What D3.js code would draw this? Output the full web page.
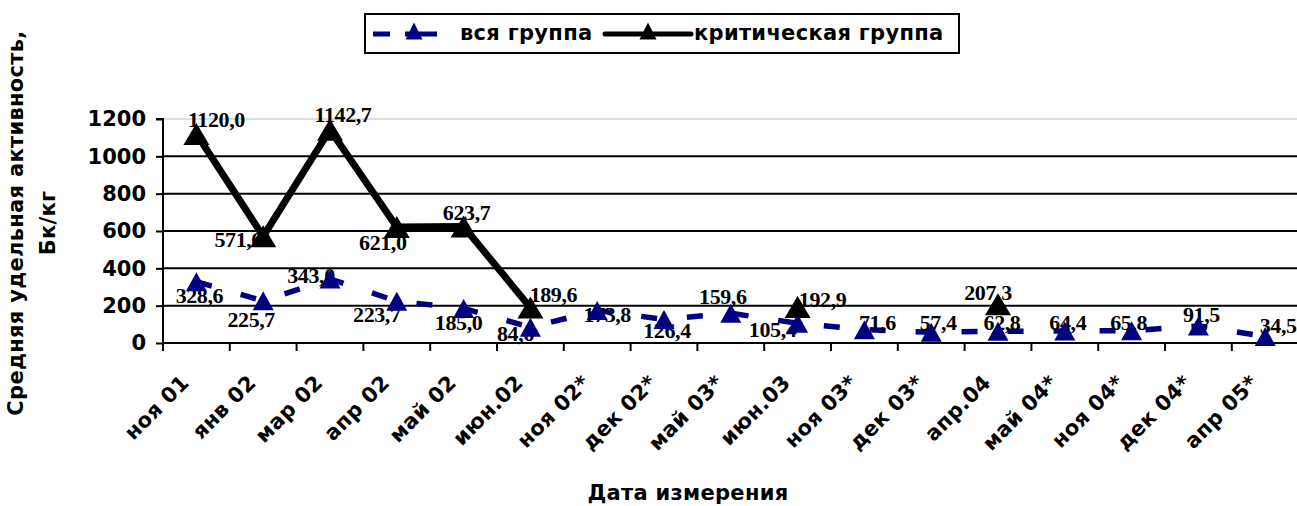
<!DOCTYPE html>
<html>
<head>
<meta charset="utf-8">
<script src="https://cdn.jsdelivr.net/npm/d3@7"></script>
<style>
  html, body { margin: 0; padding: 0; background: #fff; }
  svg { display: block; }
</style>
</head>
<body>
<svg id="chart" width="1297" height="506"></svg>
<script>
// ---------------- DATA ----------------
const categories = ["ноя 01", "янв 02", "мар 02", "апр 02", "май 02", "июн.02", "ноя 02*", "дек 02*",
  "май 03*", "июн.03", "ноя 03*", "дек 03*", "апр.04", "май 04*", "ноя 04*", "дек 04*", "апр 05*"];
const allGroup = [328.6, 225.7, 343.0, 223.7, 185.0, 84.6, 173.8, 126.4, 159.6, 105.4, 71.6, 57.4,
  62.8, 64.4, 65.8, 91.5, 34.5];
const critGroup = [1120.0, 571.6, 1142.7, 621.0, 623.7, 189.6, null, null, null, 192.9, null, null,
  207.3, null, null, null, null];
const yTicks = [0, 200, 400, 600, 800, 1000, 1200];
const seriesNames = ["вся группа", "критическая группа"];
const yTitle = ["Средняя удельная активность,", "Бк/кг"];
const xTitle = "Дата измерения";

// ---------------- LAYOUT (label nudges, px) ----------------
const allLabelOffsets = [[3,21],[-12,26],[-19,4],[-20,21],[-5,22],[-15,14],[10,11],[3,19],[-8,-9],
  [-25,14],[13,0],[7,-2],[4,-1],[3,-1],[-3,-1],[3,-4],[13,-4]];
const critLabelOffsets = [[20,-7],[-25,11],[13,-8],[-14,23],[3,-7],[23,-6],null,null,null,[25,0],
  null,null,[-10,-4],null,null,null,null];

const W = 1297, H = 506;
const plot = { left: 163, right: 163 + 17 * 66.8, top: 119, bottom: 343 };
const navy = "#000080";
const sansBold = "'DejaVu Sans', Verdana, sans-serif";
const serif = "'Liberation Serif', 'Times New Roman', serif";

const svg = d3.select("#chart");
svg.append("rect").attr("width", W).attr("height", H).attr("fill", "#fff");

const x = d3.scaleBand().domain(categories).range([plot.left, plot.right]).paddingInner(0).paddingOuter(0);
const y = d3.scaleLinear().domain([0, 1200]).range([plot.bottom, plot.top]);
const cx = i => x(categories[i]) + x.bandwidth() / 2;

// gridlines
svg.append("g").selectAll("line").data(yTicks.filter(v => v > 0)).join("line")
  .attr("x1", plot.left).attr("x2", W)
  .attr("y1", d => y(d)).attr("y2", d => y(d))
  .attr("stroke", d => d === 1200 ? "#bdbdbd" : "#000")
  .attr("stroke-width", d => d === 1200 ? 1 : 2);

// Y axis
const yAxis = d3.axisLeft(y).tickValues(yTicks).tickSize(7).tickPadding(10).tickFormat(d3.format("d"));
const gy = svg.append("g").attr("transform", `translate(${plot.left},0)`).call(yAxis);
gy.select(".domain").attr("stroke", "#000").attr("stroke-width", 2).attr("d", `M-7,${plot.top}H0V${plot.bottom}`);
gy.selectAll(".tick line").attr("stroke", "#000").attr("stroke-width", 2);
gy.selectAll(".tick text").attr("font-family", sansBold).attr("font-weight", "bold")
  .attr("font-size", 21).attr("fill", "#000");

// X axis
const xAxis = d3.axisBottom(x).tickSize(0).tickFormat("");
const gx = svg.append("g").attr("transform", `translate(0,${plot.bottom})`).call(xAxis);
gx.select(".domain").attr("stroke", "#000").attr("stroke-width", 2).attr("d", `M${plot.left},0H${W}`);
const boundaries = d3.range(categories.length + 1).map(i => plot.left + i * x.bandwidth());
gx.append("g").selectAll("line").data(boundaries).join("line")
  .attr("x1", d => d).attr("x2", d => d).attr("y1", 0).attr("y2", 8)
  .attr("stroke", "#000").attr("stroke-width", 2);
gx.append("g").selectAll("text").data(categories).join("text")
  .attr("transform", (d, i) => `translate(${cx(i) - 6},${41}) rotate(-45)`)
  .attr("text-anchor", "end")
  .attr("font-family", sansBold).attr("font-weight", "bold").attr("font-size", 21)
  .attr("letter-spacing", 0.3).attr("fill", "#000")
  .text(d => d);

// axis titles
const yt = svg.append("text")
  .attr("transform", `translate(0,223) rotate(-90)`)
  .attr("text-anchor", "middle")
  .attr("font-family", sansBold).attr("font-weight", "bold").attr("font-size", 21)
  .attr("letter-spacing", 0.3).attr("fill", "#000");
yt.selectAll("tspan").data(yTitle).join("tspan")
  .attr("x", 0).attr("y", (d, i) => i === 0 ? 23 : 55).text(d => d);

svg.append("text").attr("x", 688).attr("y", 500).attr("text-anchor", "middle")
  .attr("font-family", sansBold).attr("font-weight", "bold").attr("font-size", 21)
  .attr("letter-spacing", 0.3).attr("fill", "#000")
  .text(xTitle);

// lines
const line = d3.line().defined(d => d != null).x((d, i) => cx(i)).y(d => y(d));
svg.append("path").datum(allGroup).attr("d", line)
  .attr("fill", "none").attr("stroke", navy).attr("stroke-width", 5.5)
  .attr("stroke-dasharray", "16,30");
svg.append("path").datum(critGroup).attr("d", line)
  .attr("fill", "none").attr("stroke", "#000").attr("stroke-width", 7)
  .attr("stroke-linejoin", "round").attr("stroke-linecap", "round");

// data labels
const fmt = v => v.toFixed(1).replace(".", ",");
function labels(data, offs) {
  svg.append("g").selectAll("text").data(data.map((v, i) => ({ v, i })).filter(d => d.v != null)).join("text")
    .attr("x", d => cx(d.i) + offs[d.i][0]).attr("y", d => y(d.v) + offs[d.i][1])
    .attr("text-anchor", "middle")
    .attr("font-family", serif).attr("font-weight", "bold").attr("font-size", 22)
    .attr("letter-spacing", -0.4).attr("fill", "#000")
    .text(d => fmt(d.v));
}
labels(allGroup, allLabelOffsets);
labels(critGroup, critLabelOffsets);

// markers
const tri = (w, h) => `M0,${-h / 2}L${w / 2},${h / 2}L${-w / 2},${h / 2}Z`;
function markers(data, color, w, h) {
  svg.append("g").selectAll("path").data(data.map((v, i) => ({ v, i })).filter(d => d.v != null)).join("path")
    .attr("transform", d => `translate(${cx(d.i)},${y(d.v)})`)
    .attr("d", tri(w, h)).attr("fill", color);
}
markers(allGroup, navy, 21, 19);
markers(critGroup, "#000", 26, 22);

// legend
const lg = svg.append("g");
lg.append("rect").attr("x", 365).attr("y", 14).attr("width", 594).attr("height", 39)
  .attr("fill", "#fff").attr("stroke", "#000").attr("stroke-width", 2);
lg.append("line").attr("x1", 373).attr("x2", 437).attr("y1", 34).attr("y2", 34)
  .attr("stroke", navy).attr("stroke-width", 5).attr("stroke-dasharray", "17,15,32");
lg.append("path").attr("transform", "translate(414,31)").attr("d", tri(17, 17)).attr("fill", navy);
lg.append("text").attr("x", 460).attr("y", 40).attr("font-family", sansBold).attr("font-weight", "bold")
  .attr("font-size", 21).attr("letter-spacing", 0.3).attr("fill", "#000").text(seriesNames[0]);
lg.append("line").attr("x1", 605).attr("x2", 691).attr("y1", 34).attr("y2", 34)
  .attr("stroke", "#000").attr("stroke-width", 5).attr("stroke-linecap", "round");
lg.append("path").attr("transform", "translate(648,31)").attr("d", tri(17, 17)).attr("fill", "#000");
lg.append("text").attr("x", 694).attr("y", 40).attr("font-family", sansBold).attr("font-weight", "bold")
  .attr("font-size", 21).attr("letter-spacing", 0.3).attr("fill", "#000").text(seriesNames[1]);
</script>
</body>
</html>
